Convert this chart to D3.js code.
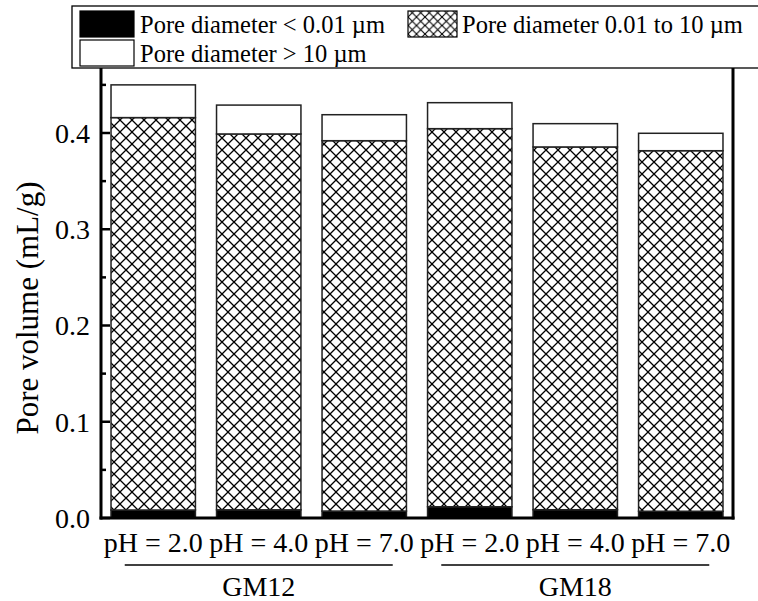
<!DOCTYPE html>
<html><head><meta charset="utf-8">
<script src="https://cdn.jsdelivr.net/npm/d3@7"></script>
<style>body{margin:0;background:#fff}svg{display:block}</style>
</head><body>
<script>
const categories = ["pH = 2.0","pH = 4.0","pH = 7.0","pH = 2.0","pH = 4.0","pH = 7.0"];
const groups = ["GM12","GM18"];
const smallPores = [0.0083,0.0085,0.0072,0.0117,0.0086,0.0070];   // < 0.01 µm
const midTotals  = [0.416,0.399,0.392,0.4045,0.3855,0.3816];     // cumulative top of 0.01-10 µm
const totals     = [0.450,0.429,0.419,0.4315,0.4097,0.3997];     // total pore volume
const seriesNames = ["Pore diameter < 0.01 \u00b5m","Pore diameter 0.01 to 10 \u00b5m","Pore diameter > 10 \u00b5m"];
const yTicks = [0.0,0.1,0.2,0.3,0.4];

const FONT="'Liberation Serif', 'Times New Roman', Times, serif";
const W=758,H=601;
const svg=d3.select("body").append("svg").attr("width",W).attr("height",H).attr("font-family",FONT);
const defs=svg.append("defs");
function hatch(id,s,w){
  const p=defs.append("pattern").attr("id",id).attr("patternUnits","userSpaceOnUse").attr("width",s).attr("height",s);
  p.append("rect").attr("width",s).attr("height",s).attr("fill","#fff");
  p.append("path").attr("d",`M0,0L${s},${s}M0,${s}L${s},0`).attr("stroke","#000").attr("stroke-width",w).attr("fill","none");
}
hatch("hatchBig",12,1.3);
hatch("hatchSmall",8.5,1.1);

const L=101,R=733,B=518;
const x=d3.scaleBand().domain(d3.range(categories.length)).range([L,R]).paddingInner(0.2).paddingOuter(0.095);
const y=d3.scaleLinear().domain([0,0.5]).range([B,B-0.5*962.5]);

const idx=d3.range(categories.length);
const segs=[];
idx.forEach(i=>{
  segs.push({i,y0:0,y1:smallPores[i],fill:"#000"});
  segs.push({i,y0:smallPores[i],y1:midTotals[i],fill:"url(#hatchBig)"});
  segs.push({i,y0:midTotals[i],y1:totals[i],fill:"#fff"});
});
svg.append("g").selectAll("rect").data(segs).join("rect")
  .attr("x",d=>x(d.i)).attr("width",x.bandwidth())
  .attr("y",d=>y(d.y1)).attr("height",d=>y(d.y0)-y(d.y1))
  .attr("fill",d=>d.fill).attr("stroke","#222").attr("stroke-width",1.5);

// left axis
const ax=svg.append("g").attr("transform",`translate(${L},0)`);
ax.append("line").attr("y1",y(0.5)).attr("y2",B+1.5).attr("stroke","#000").attr("stroke-width",3);
ax.selectAll(".maj").data(yTicks).join("line").attr("x1",0).attr("x2",9).attr("y1",d=>y(d)).attr("y2",d=>y(d)).attr("stroke","#000").attr("stroke-width",2.5);
ax.selectAll(".min").data([0.05,0.15,0.25,0.35,0.45]).join("line").attr("x1",0).attr("x2",5).attr("y1",d=>y(d)).attr("y2",d=>y(d)).attr("stroke","#000").attr("stroke-width",2.5);
ax.selectAll("text").data(yTicks).join("text").attr("x",-11).attr("y",d=>y(d)).attr("dy","0.35em").attr("text-anchor","end").attr("font-size",28).text(d=>d3.format(".1f")(d));
// right and bottom frame
svg.append("line").attr("x1",R).attr("x2",R).attr("y1",y(0.5)).attr("y2",B+1.5).attr("stroke","#000").attr("stroke-width",3);
svg.append("line").attr("x1",L-1.5).attr("x2",R+1.5).attr("y1",B).attr("y2",B).attr("stroke","#000").attr("stroke-width",3);

// x labels
svg.append("g").selectAll("text").data(idx).join("text")
  .attr("x",i=>x(i)+x.bandwidth()/2).attr("y",552).attr("text-anchor","middle").attr("font-size",28).text(i=>categories[i]);
// group labels
groups.forEach((g,k)=>{
  const cx=(x(k*3)+x(k*3+2)+x.bandwidth())/2;
  svg.append("line").attr("x1",cx-134).attr("x2",cx+134).attr("y1",565).attr("y2",565).attr("stroke","#000").attr("stroke-width",1.5);
  svg.append("text").attr("x",cx).attr("y",596).attr("text-anchor","middle").attr("font-size",28).text(g);
});

// y title
svg.append("text").attr("transform","translate(38,308) rotate(-90)").attr("text-anchor","middle").attr("font-size",31).text("Pore volume (mL/g)");

// legend
const lg=svg.append("g");
lg.append("rect").attr("x",72).attr("y",6).attr("width",700).attr("height",62).attr("fill","#fff").attr("stroke","#000").attr("stroke-width",1.3);
const items=[
  {x:80,y:11,fill:"#000",name:seriesNames[0]},
  {x:408,y:11,fill:"url(#hatchSmall)",name:seriesNames[1]},
  {x:80,y:40,fill:"#fff",name:seriesNames[2]}
];
items.forEach(it=>{
  lg.append("rect").attr("x",it.x).attr("y",it.y).attr("width",it.x===408?49:54).attr("height",26).attr("fill",it.fill).attr("stroke","#000").attr("stroke-width",1.2);
  lg.append("text").attr("x",it.x+(it.x===408?54:60)).attr("y",it.y+13).attr("dy","0.35em").attr("font-size",24.5).text(it.name);
});
</script>
</body></html>
